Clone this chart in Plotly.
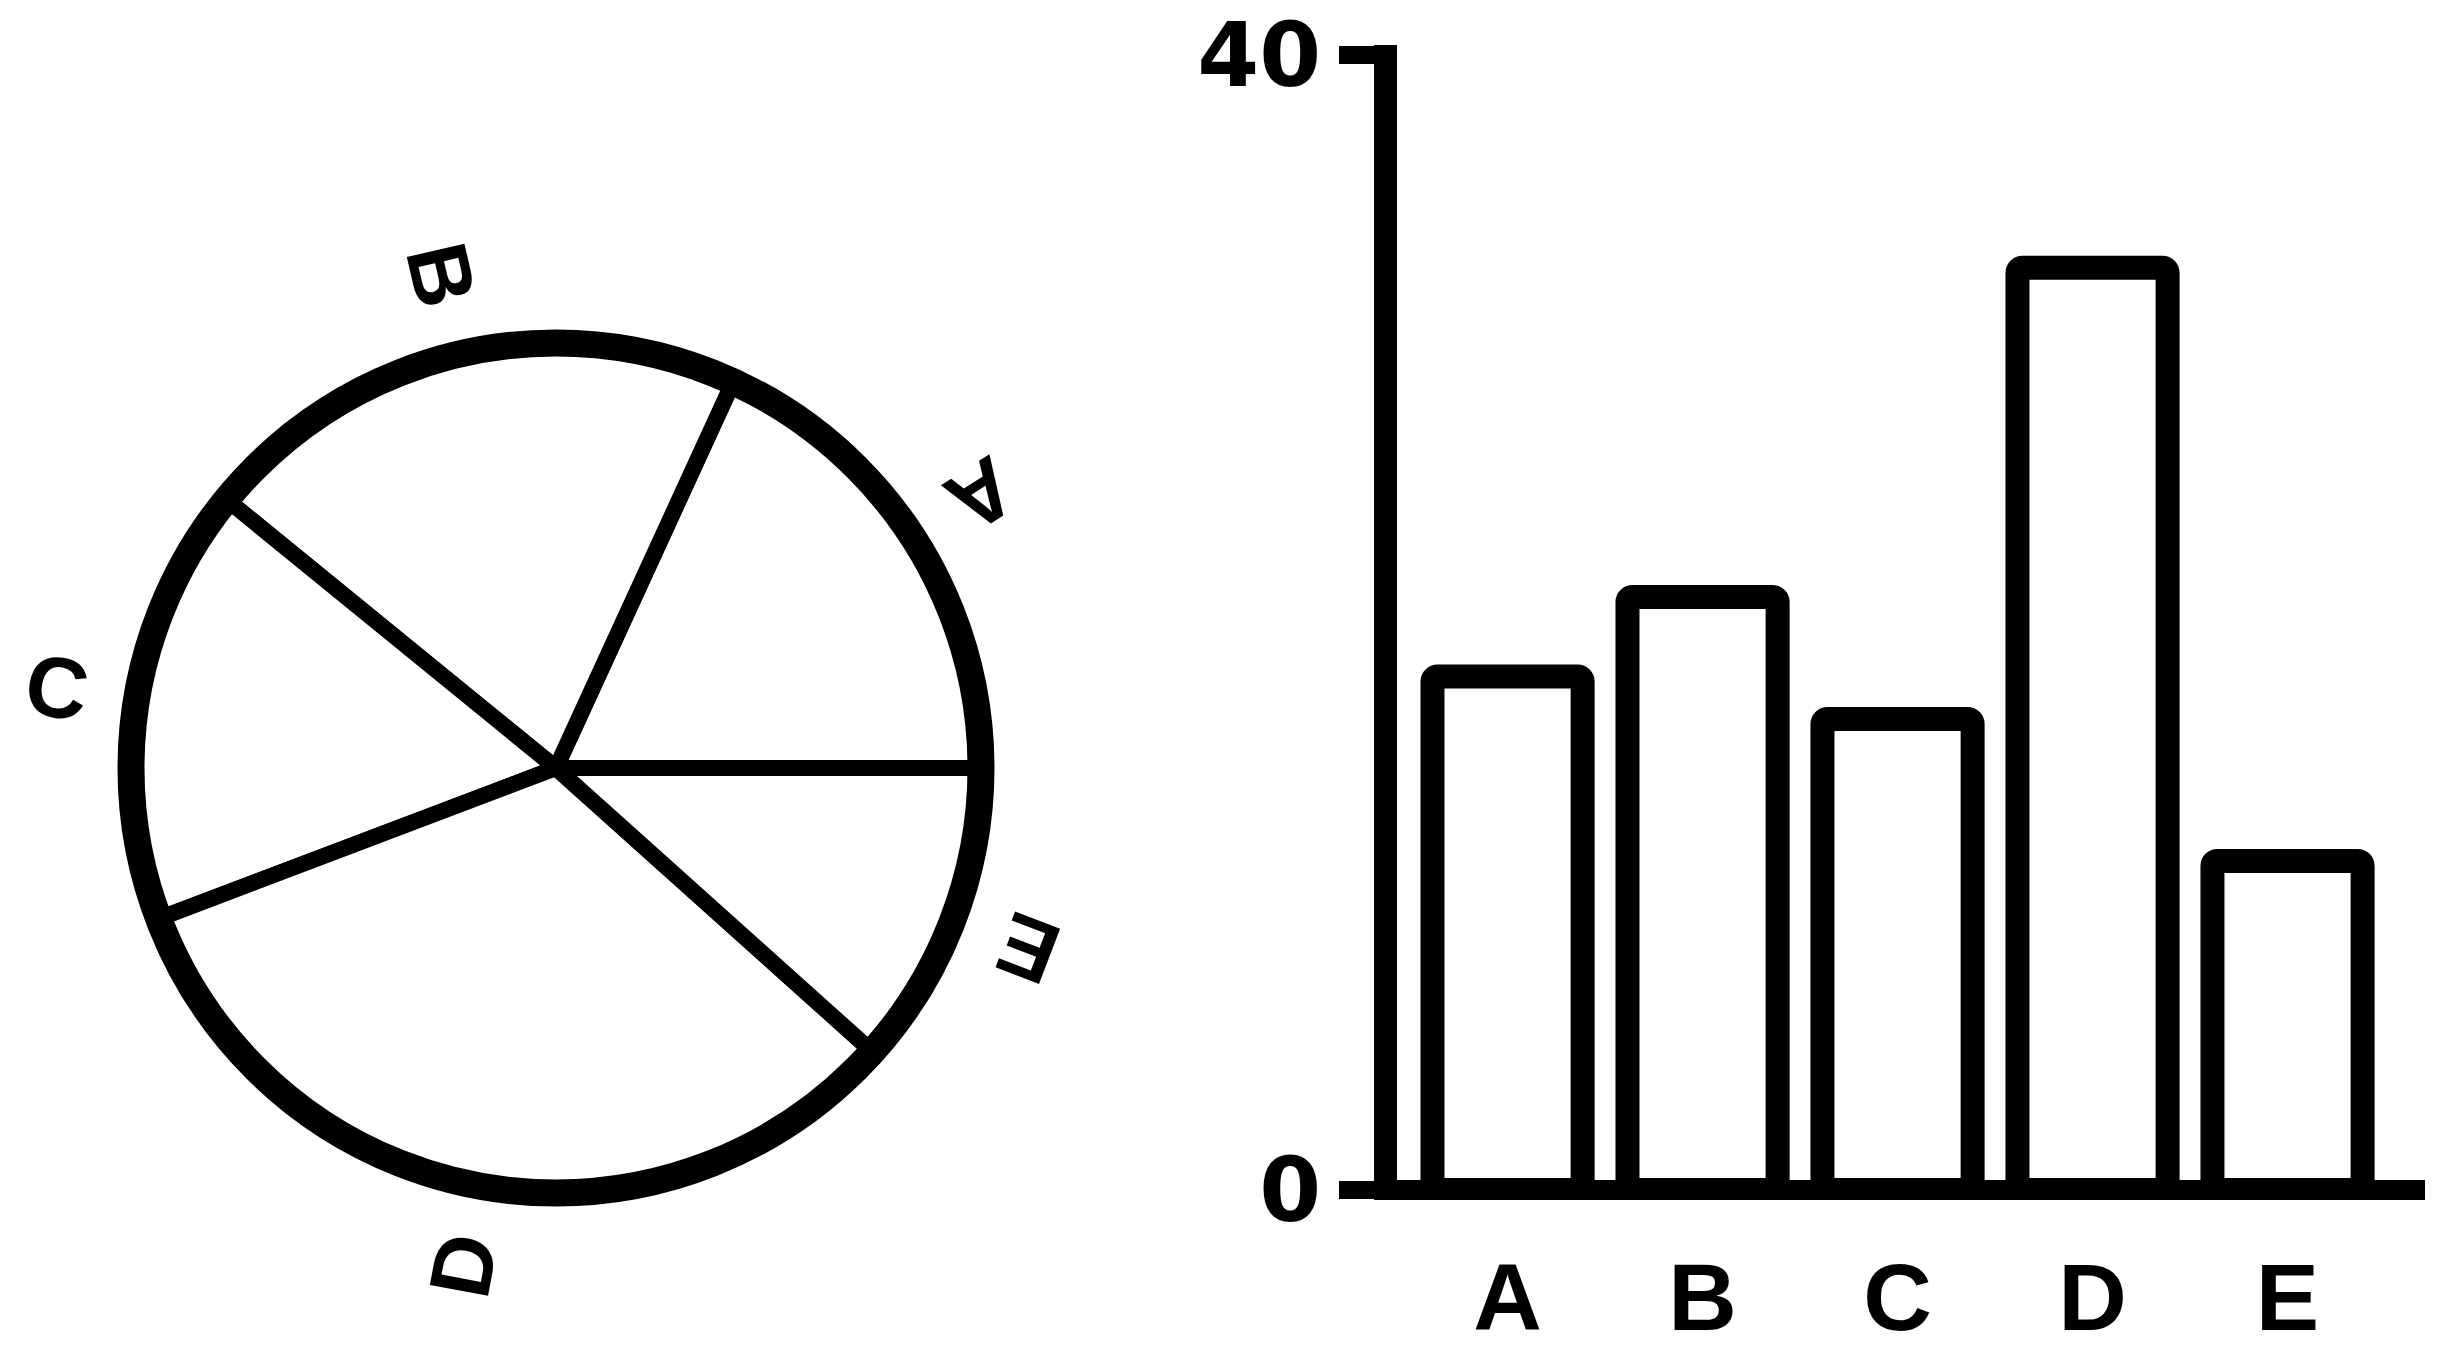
import math
import plotly.graph_objects as go

# ---- data ----
categories = ["A", "B", "C", "D", "E"]
values = [18.1, 20.9, 16.6, 32.5, 11.6]
y_tick_values = [0, 40]
y_tick_labels = ["0", "40"]

W, H = 2453, 1351
FONT = "Liberation Sans, Arial, Helvetica, sans-serif"
DIGIT_FONT = "DejaVu Sans, Liberation Sans, sans-serif"

fig = go.Figure()

# ---- pie (left) ----
pie_cx, pie_cy, pie_r = 556, 768, 425
pie_dom_x = [(pie_cx - pie_r) / W, (pie_cx + pie_r) / W]
pie_dom_y = [(H - pie_cy - pie_r) / H, (H - pie_cy + pie_r) / H]

total = sum(values)
# first slice (A) starts at 3 o'clock and runs counter-clockwise
pie_rotation = 90 - 360.0 * values[0] / total

fig.add_trace(go.Pie(
    labels=categories, values=values, sort=False,
    direction="counterclockwise", rotation=pie_rotation,
    marker=dict(colors=["white"] * len(categories),
                line=dict(color="black", width=16)),
    textinfo="none", hoverinfo="label+value",
    domain=dict(x=pie_dom_x, y=pie_dom_y), showlegend=False,
))
# thick outer rim
fig.add_trace(go.Pie(
    labels=["total"], values=[total], sort=False,
    marker=dict(colors=["rgba(0,0,0,0)"], line=dict(color="black", width=27)),
    textinfo="none", hoverinfo="skip",
    domain=dict(x=pie_dom_x, y=pie_dom_y), showlegend=False,
))

# radial labels at each slice's mid-angle (units: pie radius)
cum = 0.0
for cat, v in zip(categories, values):
    mid = (cum + v / 2.0) / total * 360.0
    cum += v
    th = math.radians(mid)
    ang = (-(mid + 180.0)) % 360.0
    if ang > 180:
        ang -= 360
    fig.add_annotation(
        x=1.19 * math.cos(th), y=1.19 * math.sin(th), xref="x2", yref="y2",
        text=cat, showarrow=False, textangle=ang,
        xanchor="center", yanchor="middle",
        font=dict(family=FONT, size=86, color="black", weight="bold"),
    )

# ---- bars (right) ----
fig.add_trace(go.Bar(
    x=categories, y=values, width=0.77,
    marker=dict(color="white", line=dict(color="black", width=24), cornerradius=5),
    xaxis="x", yaxis="y", showlegend=False, hoverinfo="x+y",
))

fig.update_layout(
    template="none",
    width=W, height=H, autosize=False,
    margin=dict(l=0, r=0, t=0, b=0, pad=0),
    paper_bgcolor="white", plot_bgcolor="white",
    showlegend=False,
    xaxis=dict(
        domain=[1397 / W, 2425 / W], range=[-0.567, 4.705],
        showline=False, showgrid=False, zeroline=False, automargin=False,
        ticks="outside", ticklen=15, tickcolor="rgba(0,0,0,0)",
        tickfont=dict(family=FONT, size=95, color="black", weight="bold"),
        anchor="y",
    ),
    yaxis=dict(
        domain=[(H - 1200) / H, (H - 45) / H], range=[-0.35, 40.35],
        tickvals=y_tick_values, ticktext=y_tick_labels,
        showline=True, linewidth=23, linecolor="black", automargin=False,
        ticks="outside", ticklen=35, tickwidth=18, tickcolor="black",
        zeroline=True, zerolinewidth=20, zerolinecolor="black",
        showgrid=False,
        tickfont=dict(family=DIGIT_FONT, size=89, color="black", weight="bold"),
        anchor="x",
    ),
    xaxis2=dict(domain=[0, 0.5], range=[-pie_cx / pie_r, (0.5 * W - pie_cx) / pie_r],
                visible=False, anchor="y2", automargin=False),
    yaxis2=dict(domain=[0, 1], range=[-(H - pie_cy) / pie_r, pie_cy / pie_r],
                visible=False, anchor="x2", automargin=False),
)

fig.write_html(
    "out.html",
    config={"displayModeBar": False},
    post_script="document.body.style.margin='0px';document.body.style.overflow='hidden';",
)
